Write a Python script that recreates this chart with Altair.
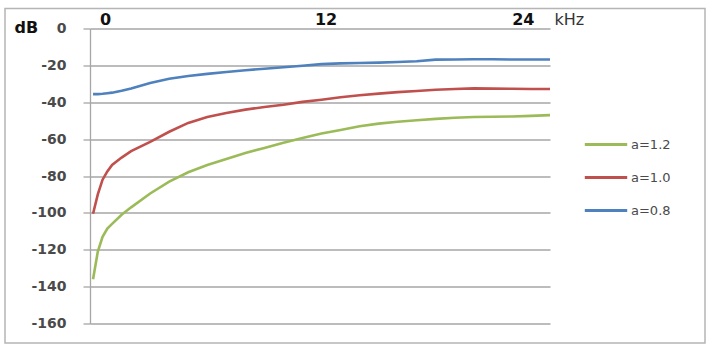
import altair as alt
import pandas as pd

# ---- data ----
freq_khz = [0, 0.25, 0.5, 0.75, 1, 1.5, 2, 3, 4, 5, 6, 7, 8, 9, 10, 11, 12,
            13, 14, 15, 16, 17, 18, 19, 20, 21, 22, 23, 24]
db_a12 = [-136, -121, -113, -108.5, -106, -101, -97, -89.5, -83, -78, -74, -70.8,
          -67.5, -64.8, -62, -59.4, -57, -55, -53, -51.6, -50.6, -49.8, -49, -48.4,
          -48, -47.9, -47.7, -47.4, -47]
db_a10 = [-100.5, -90, -82, -77.5, -74, -70, -66.5, -61.5, -56, -51.2, -48, -45.8,
          -44, -42.6, -41.4, -39.8, -38.6, -37.3, -36.2, -35.3, -34.5, -33.9, -33.2,
          -32.8, -32.5, -32.6, -32.7, -32.8, -32.8]
db_a08 = [-35.6, -35.6, -35.4, -35.1, -34.8, -33.8, -32.5, -29.5, -27.3, -25.8,
          -24.6, -23.6, -22.6, -21.8, -21, -20.2, -19.3, -18.9, -18.7, -18.5, -18.2,
          -17.8, -16.9, -16.8, -16.7, -16.7, -16.8, -16.8, -16.8]
series_labels = ["a=1.2", "a=1.0", "a=0.8"]
series_colors = ["#9bbb59", "#c0504d", "#4f81bd"]
y_ticks = [0, -20, -40, -60, -80, -100, -120, -140, -160]
x_ticks = [0, 12, 24]

rows = []
for lab, vals in zip(series_labels, [db_a12, db_a10, db_a08]):
    for f, v in zip(freq_khz, vals):
        rows.append({"freq": f, "db": v, "series": lab})
df = pd.DataFrame(rows)

grid_col = "#a6a6a6"

lines = alt.Chart(df).mark_line(strokeWidth=2.6).encode(
    x=alt.X("freq:Q",
            scale=alt.Scale(domain=[-0.16, 24], nice=False, zero=False),
            axis=alt.Axis(orient="top", values=x_ticks, grid=False, domain=False,
                          ticks=False, labelFont="DejaVu Sans", labelFontSize=16,
                          labelFontWeight="bold", labelColor="#111",
                          labelPadding=1,
                          labelOffset={"condition": [
                              {"test": "datum.value == 0", "value": 12},
                              {"test": "datum.value == 24", "value": -16}],
                              "value": 4},
                          title="kHz", titleFont="DejaVu Sans", titleFontSize=16,
                          titleFontWeight="normal", titleColor="#333",
                          titleAlign="left", titleBaseline="middle",
                          titleX=464, titleY=-9)),
    y=alt.Y("db:Q",
            scale=alt.Scale(domain=[-160, 0], nice=False),
            axis=alt.Axis(values=y_ticks, grid=True, gridColor=grid_col,
                          gridWidth=1.3, domainColor=grid_col, domainWidth=1.3,
                          tickColor=grid_col, tickSize=7, tickWidth=1.3,
                          labelExpr="datum.value + ''",
                          labelFont="DejaVu Sans", labelFontSize=14,
                          labelFontWeight="bold",
                          labelColor="#4a4a4a", labelPadding=17,
                          title="dB", titleAngle=0, titleFont="DejaVu Sans",
                          titleFontSize=16, titleFontWeight="bold",
                          titleColor="#111", titleAlign="left",
                          titleBaseline="middle", titleX=-76, titleY=-1)),
    color=alt.Color("series:N",
                    scale=alt.Scale(domain=series_labels, range=series_colors),
                    legend=alt.Legend(orient="none", legendX=493, legendY=93,
                                      title=None, symbolType="stroke",
                                      symbolSize=1800, symbolStrokeWidth=3,
                                      labelFont="DejaVu Sans", labelFontSize=13,
                                      labelColor="#4a4a4a", labelOffset=2,
                                      rowPadding=3, padding=0)),
)

frame = alt.Chart(pd.DataFrame({"a": [0]})).mark_rect(
    fill=None, stroke="#b5b5b5", strokeWidth=1.5
).encode(x=alt.value(-85), x2=alt.value(615), y=alt.value(-20), y2=alt.value(314.5))

chart = alt.layer(frame, lines).properties(
    width=460, height=295,
    padding={"left": 90, "top": 28.5, "right": 163, "bottom": 23.5},
    autosize=alt.AutoSizeParams(type="none"),
    background="white",
).configure_view(stroke=None)

chart.save("out.html", embed_options={"renderer": "svg", "actions": False})
